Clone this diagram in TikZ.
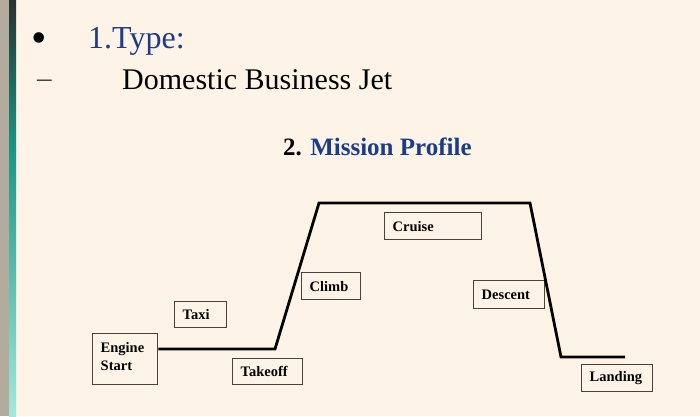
\documentclass[tikz,border=0pt]{standalone}
\usepackage{fontspec}
\setmainfont{Liberation Serif}
\usepackage{tikz}
\usetikzlibrary{calc,positioning}
\definecolor{fondo}{HTML}{FDF4E7}
\definecolor{azul}{HTML}{1B3C8C}
\definecolor{borde}{HTML}{4A423C}
\definecolor{gris}{HTML}{B3AB9D}
\definecolor{oscuro}{HTML}{28322D}
\definecolor{verde}{HTML}{1A9687}
\definecolor{agua}{HTML}{A5E8DA}
\tikzset{
  caja/.style={draw=borde,line width=1.4pt,anchor=north west,inner xsep=8pt,inner ysep=0pt,align=left,
    font=\bfseries\fontsize{14.5}{18}\selectfont},
  perfil/.style={line width=2.8pt,line join=miter,black},
  texto/.style={anchor=base west,inner sep=0pt}
}
\begin{document}
\begin{tikzpicture}[x=1pt,y=-1pt]
\useasboundingbox (0,0) rectangle (700,416);
\fill[fondo] (0,0) rectangle (700,416);
% franja izquierda
\fill[gris] (0,0) rectangle (9,416);
\shade[top color=oscuro,bottom color=verde] (9,0) rectangle (16,150);
\shade[top color=verde,bottom color=agua] (9,150) rectangle (16,416);
% texto
\node[texto,font=\fontsize{44}{48}\selectfont] (punto) at (31,52) {•};
\node[texto,font=\fontsize{32}{36}\selectfont,text=azul] (tipo) at (88,48) {1.Type:};
\node[texto,font=\fontsize{29}{34}\selectfont,text=black!75] (guion) at (37,87) {–};
\node[texto,font=\fontsize{30}{34}\selectfont] (avion) at (122,89) {Domestic Business Jet};
\node[texto,font=\bfseries\fontsize{25}{30}\selectfont] (titulo) at (283,155) {2. \textcolor{azul}{Mission Profile}};
% cajas
\node[caja,text width=49pt,minimum height=51pt,text depth=24pt] (engine) at (92,333) {Engine\\Start};
\node[caja,text width=36pt,minimum height=26pt] (taxi) at (174,301) {Taxi};
\node[caja,text width=54pt,minimum height=26pt] (takeoff) at (232,358) {Takeoff};
\node[caja,text width=43pt,minimum height=27pt] (climb) at (301,272) {Climb};
\node[caja,text width=81pt,minimum height=27pt] (cruise) at (384,212) {Cruise};
\node[caja,text width=55pt,minimum height=28pt] (descent) at (473,280) {Descent};
\node[caja,text width=55pt,minimum height=27pt] (landing) at (581,364) {Landing};
% perfil de mision
\coordinate (rodaje) at (275,349);
\coordinate (ascenso) at (319,203);
\coordinate (descenso) at (530,203);
\coordinate (pista) at (561,357);
\coordinate (fin) at (625,357);
\draw[perfil] (engine.east |- rodaje) -- (rodaje) -- (ascenso) -- (descenso) -- (pista) -- (fin);
\end{tikzpicture}
\end{document}
